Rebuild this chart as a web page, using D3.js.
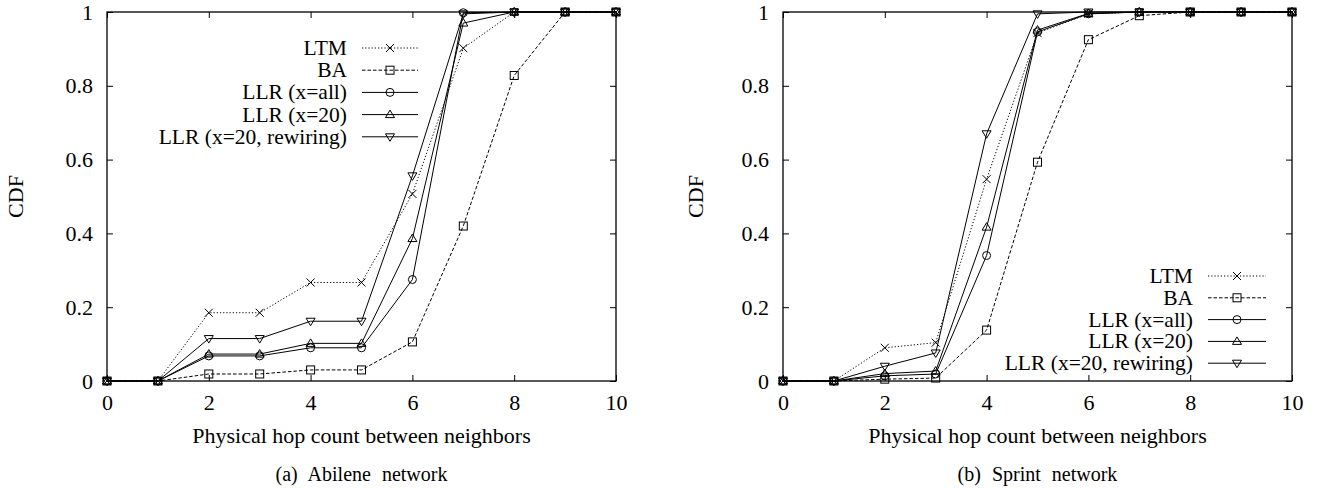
<!DOCTYPE html>
<html><head><meta charset="utf-8">
<script src="https://cdn.jsdelivr.net/npm/d3@7"></script>
</head>
<body style="margin:0;background:#fff"><svg id="c" width="1319" height="488" style="background:#fff"></svg>
<script>
const hops = [0,1,2,3,4,5,6,7,8,9,10];
const seriesNames = ["LTM","BA","LLR (x=all)","LLR (x=20)","LLR (x=20, rewiring)"];
const xTicks = [0,2,4,6,8,10];
const yTicks = [0,0.2,0.4,0.6,0.8,1];

const abileneLTM = [0,0,0.185,0.185,0.267,0.267,0.507,0.902,1,1,1];
const abileneBA  = [0,0,0.019,0.019,0.03,0.03,0.106,0.42,0.828,1,1];
const abileneAll = [0,0,0.068,0.068,0.09,0.09,0.275,0.998,1,1,1];
const abilene20  = [0,0,0.073,0.073,0.102,0.102,0.386,0.97,1,1,1];
const abileneRew = [0,0,0.115,0.115,0.162,0.162,0.556,0.995,1,1,1];

const sprintLTM = [0,0,0.09,0.104,0.547,0.943,0.995,1,1,1,1];
const sprintBA  = [0,0,0.005,0.008,0.138,0.593,0.925,0.99,1,1,1];
const sprintAll = [0,0,0.014,0.019,0.34,0.946,0.995,1,1,1,1];
const sprint20  = [0,0,0.02,0.027,0.417,0.951,0.996,1,1,1,1];
const sprintRew = [0,0,0.04,0.076,0.67,0.995,1,1,1,1,1];

const styles = [
  {dash:"1.2,2", marker:"x"},
  {dash:"3.5,2", marker:"square"},
  {dash:null, marker:"circle"},
  {dash:null, marker:"up"},
  {dash:null, marker:"down"}
];

const FONT = '"Liberation Serif"';
const svg = d3.select("#c");

function serif(sel, size){
  return sel.style("font-family", FONT).style("font-size", size + "px").attr("fill", "#000");
}

function drawMarker(g, type, cx, cy){
  const s = 4;
  let el;
  if(type==="x"){
    el = g.append("path").attr("d",`M${cx-s},${cy-s}L${cx+s},${cy+s}M${cx-s},${cy+s}L${cx+s},${cy-s}`);
  } else if(type==="square"){
    el = g.append("rect").attr("x",cx-s).attr("y",cy-s).attr("width",2*s).attr("height",2*s);
  } else if(type==="circle"){
    el = g.append("circle").attr("cx",cx).attr("cy",cy).attr("r",s);
  } else if(type==="up"){
    el = g.append("path").attr("d",`M${cx},${cy-s-0.5}L${cx+s+0.5},${cy+s-1}L${cx-s-0.5},${cy+s-1}Z`);
  } else {
    el = g.append("path").attr("d",`M${cx},${cy+s+0.5}L${cx+s+0.5},${cy-s+1}L${cx-s-0.5},${cy-s+1}Z`);
  }
  el.attr("stroke","#000").attr("stroke-width",1).attr("fill","none");
}

function panel(opts){
  const {left,right,top,bottom,data,ylabelX,caption,legend} = opts;
  const x = d3.scaleLinear().domain([0,10]).range([left,right]);
  const y = d3.scaleLinear().domain([0,1]).range([bottom,top]);
  const g = svg.append("g");

  const fmt = d => d===0||d===1 ? String(d) : d3.format(".1f")(d);
  const ax = g.append("g").attr("transform",`translate(0,${bottom})`)
    .call(d3.axisBottom(x).tickValues(xTicks).tickSize(-6).tickPadding(13).tickFormat(d3.format("d")));
  const axT = g.append("g").attr("transform",`translate(0,${top})`)
    .call(d3.axisTop(x).tickValues(xTicks).tickSize(-6).tickFormat(""));
  const ay = g.append("g").attr("transform",`translate(${left},0)`)
    .call(d3.axisLeft(y).tickValues(yTicks).tickSize(-6).tickPadding(14).tickFormat(fmt));
  const ayR = g.append("g").attr("transform",`translate(${right},0)`)
    .call(d3.axisRight(y).tickValues(yTicks).tickSize(-6).tickFormat(""));
  [ax,axT,ay,ayR].forEach(a=>{
    a.attr("font-family", null).attr("font-size", null);
    a.select(".domain").remove();
    a.selectAll("line").attr("stroke","#000").attr("stroke-width",1);
    serif(a.selectAll("text"), 22);
  });
  g.append("rect").attr("x",left).attr("y",top).attr("width",right-left).attr("height",bottom-top)
    .attr("fill","none").attr("stroke","#000").attr("stroke-width",1.3);

  const line = d3.line().x((d,i)=>x(hops[i])).y(d=>y(d));
  data.forEach((vals,k)=>{
    const p = g.append("path").datum(vals).attr("d",line).attr("fill","none")
      .attr("stroke","#000").attr("stroke-width",1);
    if(styles[k].dash) p.attr("stroke-dasharray",styles[k].dash);
    vals.forEach((v,i)=>drawMarker(g,styles[k].marker,x(hops[i]),y(v)));
  });

  seriesNames.forEach((name,k)=>{
    const ly = legend.y0 + k*legend.dy;
    serif(g.append("text").attr("x",legend.textX).attr("y",ly).attr("dy","0.33em")
      .attr("text-anchor","end"), 21.5).text(name);
    const p = g.append("line").attr("x1",legend.lineX1).attr("x2",legend.lineX2)
      .attr("y1",ly).attr("y2",ly).attr("stroke","#000").attr("stroke-width",1);
    if(styles[k].dash) p.attr("stroke-dasharray",styles[k].dash);
    drawMarker(g,styles[k].marker,(legend.lineX1+legend.lineX2)/2,ly);
  });

  serif(g.append("text").attr("transform",`translate(${ylabelX},${(top+bottom)/2}) rotate(-90)`)
    .attr("text-anchor","middle").attr("dy","0.35em"), 22).text("CDF");
  serif(g.append("text").attr("x",(left+right)/2).attr("y",443).attr("text-anchor","middle"), 22)
    .text("Physical hop count between neighbors");
  serif(g.append("text").attr("x",(left+right)/2).attr("y",481).attr("text-anchor","middle"), 20)
    .style("word-spacing","6px").text(caption);
}

panel({left:107,right:616,top:12,bottom:381,ylabelX:15,
  data:[abileneLTM,abileneBA,abileneAll,abilene20,abileneRew],
  caption:"(a) Abilene network",
  legend:{textX:347,lineX1:362,lineX2:418,y0:48,dy:22.2}});
panel({left:783,right:1292,top:12,bottom:381,ylabelX:695,
  data:[sprintLTM,sprintBA,sprintAll,sprint20,sprintRew],
  caption:"(b) Sprint network",
  legend:{textX:1193,lineX1:1208,lineX2:1266,y0:276,dy:21.8}});
</script></body></html>
